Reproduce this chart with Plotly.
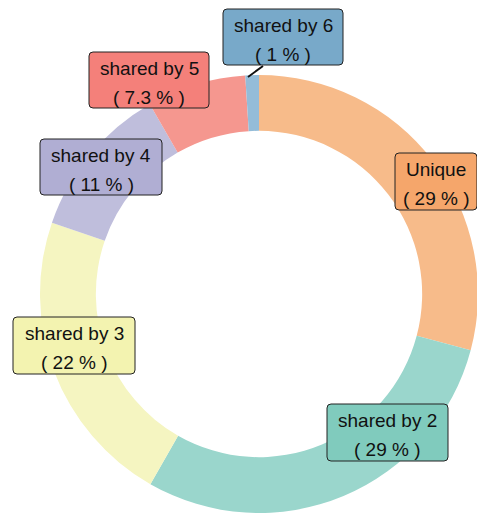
import plotly.graph_objects as go

# ---- data ----
categories = ["Unique", "shared by 2", "shared by 3", "shared by 4", "shared by 5", "shared by 6"]
values = [29.1, 29.1, 22.0, 11.4, 7.3, 1.0]

# ---- styles ----
slice_colors = ["#f7bb8a", "#9ad6cc", "#f5f5c1", "#bfbedc", "#f5978f", "#94bcd8"]
box_colors = ["#f5a66b", "#80cbbd", "#f3f3b0", "#b0aed3", "#f4807a", "#78a9c9"]
# label boxes in page pixel coords: (x0, y0, x1, y1)
boxes = [(395, 153, 477, 210), (327, 404, 448, 461), (13, 317, 135, 374),
         (40, 139, 162, 195), (89, 52, 209, 108), (223, 9, 343, 65)]

OFF = 8  # page body margin
W, H = 485, 518
CX, CY, R = 259, 294, 219
ML, MT = CX - R - OFF, CY - R - OFF
PW, PH = 2 * R, 2 * R
MR, MB = W - ML - PW, H - MT - PH


def px(x):
    return (x - OFF - ML) / PW


def py(y):
    return 1 - (y - OFF - MT) / PH


def rounded(x0, y0, x1, y1, r=4):
    rx, ry = r / PW, r / PH
    X0, X1, Y0, Y1 = px(x0), px(x1), py(y0), py(y1)  # Y0 top (larger)
    return (f"M {X0+rx},{Y0} L {X1-rx},{Y0} Q {X1},{Y0} {X1},{Y0-ry} "
            f"L {X1},{Y1+ry} Q {X1},{Y1} {X1-rx},{Y1} L {X0+rx},{Y1} "
            f"Q {X0},{Y1} {X0},{Y1+ry} L {X0},{Y0-ry} Q {X0},{Y0} {X0+rx},{Y0} Z")


fig = go.Figure(go.Pie(
    labels=categories, values=values, hole=0.745, sort=False,
    direction="clockwise", rotation=0, textinfo="none",
    marker=dict(colors=slice_colors, line=dict(width=0)),
    showlegend=False,
))

shapes = []
annotations = []
font = dict(family="Liberation Sans, Arial, sans-serif", size=19, color="#111111")
for cat, val, bc, (x0, y0, x1, y1) in zip(categories, values, box_colors, boxes):
    shapes.append(dict(type="path", xref="paper", yref="paper", path=rounded(x0, y0, x1, y1),
                       fillcolor=bc, line=dict(color="#222222", width=1), layer="above"))
    cx = (x0 + x1) / 2
    annotations.append(dict(x=px(cx), y=py(y0 + 16), xref="paper", yref="paper", text=cat,
                            showarrow=False, font=font, xanchor="center", yanchor="middle"))
    annotations.append(dict(x=px(cx), y=py(y0 + 45.5), xref="paper", yref="paper",
                            text=f"( {val:.2g} % )", showarrow=False, font=font,
                            xanchor="center", yanchor="middle"))

# leader line for the small slice
shapes.append(dict(type="line", xref="paper", yref="paper", x0=px(263), y0=py(66), x1=px(248), y1=py(77),
                   line=dict(color="#111111", width=2), layer="above"))

fig.update_layout(
    width=W, height=H, margin=dict(l=ML, r=MR, t=MT, b=MB),
    paper_bgcolor="white", plot_bgcolor="white",
    shapes=shapes, annotations=annotations,
)
fig.write_html("out.html")
